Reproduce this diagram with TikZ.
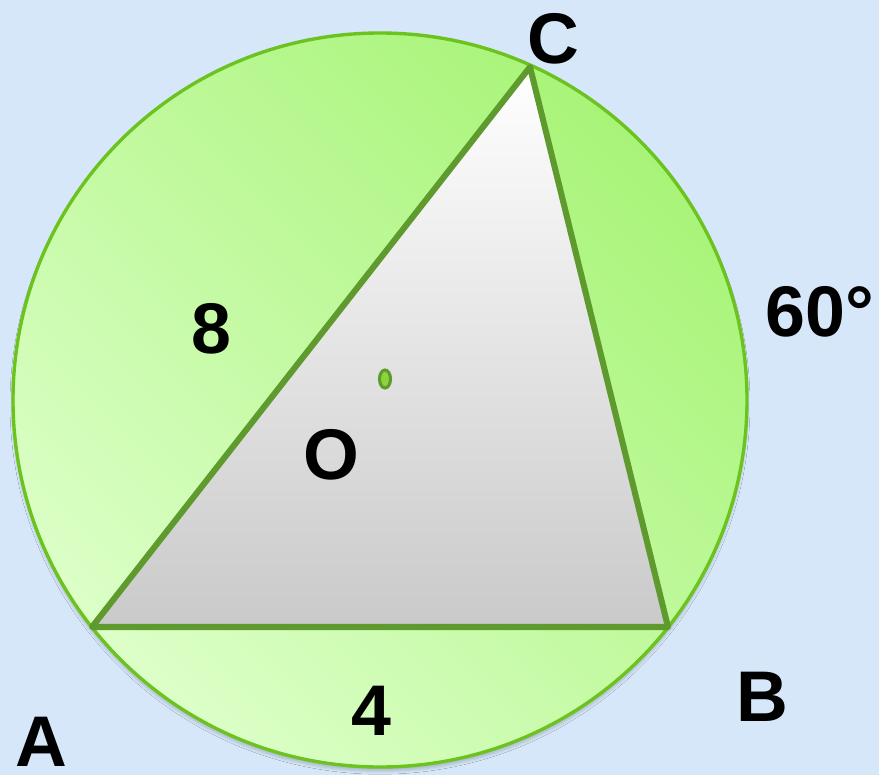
\documentclass[tikz,border=0pt]{standalone}
\usepackage{fontspec}
\setmainfont{Liberation Sans}
\usepackage{tikz}
\usetikzlibrary{positioning,shadows.blur}
\definecolor{bgblue}{HTML}{D5E7F8}
\definecolor{rimgreen}{HTML}{6CC21E}
\definecolor{edgegreen}{HTML}{5F9A2E}
\definecolor{lightgreen}{HTML}{DCFFC8}
\definecolor{darkgreen}{HTML}{A8F478}
\definecolor{dotgreen}{HTML}{8ED23C}

\begin{document}
\begin{tikzpicture}[
    x=0.025cm, y=-0.025cm,
    lbl/.style={font=\fontsize{51}{60}\selectfont\bfseries, inner sep=0pt},
    side/.style={draw=edgegreen, line width=4.3pt, line join=round}
]

% Background
\fill[bgblue] (0,0) rectangle (879,775);
\useasboundingbox (0,0) rectangle (879,775);

% Points
\coordinate (O) at (380,400);
\coordinate (A) at (92,627);
\coordinate (B) at (668,627);
\coordinate (C) at (530,67);

% Circle
\draw[rimgreen, line width=2.4pt, left color=lightgreen, right color=darkgreen, shading angle=135,
      blur shadow={shadow xshift=0pt, shadow yshift=-3pt, shadow opacity=20, shadow blur steps=6}]
    (O) circle[radius=367];

% Triangle
\draw[side, top color=white, bottom color=black!21] (A) -- (B) -- (C) -- cycle;

% Centre mark
\filldraw[draw=edgegreen, fill=dotgreen, line width=2.2pt] (385,379) ellipse[x radius=5.5, y radius=9];

% Labels
\node[lbl] (labC) at (553,39) {C};
\node[lbl] (labA) at (41,742) {A};
\node[lbl] (labB) at (762,697) {B};
\node[lbl] (labO) at (331,455) {O};
\node[lbl] (lab8) at (211,329) {8};
\node[lbl] (lab4) at (371,711) {4};
\node[lbl] (labAngle) at (820,312) {60°};

\end{tikzpicture}
\end{document}
